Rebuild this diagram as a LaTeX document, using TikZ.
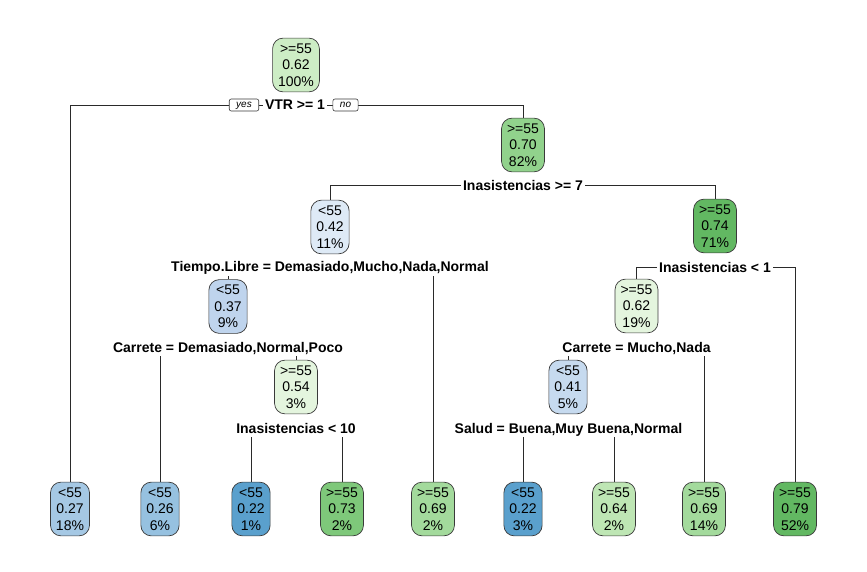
\documentclass[tikz,border=0pt]{standalone}
\usepackage{fontspec}
\setmainfont{Liberation Sans}
\usetikzlibrary{backgrounds}
\definecolor{bordc}{HTML}{3A3A3A}
\definecolor{linec}{HTML}{2A2A2A}
\definecolor{gA}{HTML}{CDEDC5}
\definecolor{gB}{HTML}{91D28C}
\definecolor{gC}{HTML}{62B862}
\definecolor{gD}{HTML}{E4F5DE}
\definecolor{gE}{HTML}{7EC87A}
\definecolor{gF}{HTML}{A3DA9C}
\definecolor{gG}{HTML}{BEE6B4}
\definecolor{bA}{HTML}{DEEAF6}
\definecolor{bB}{HTML}{BFD4ED}
\definecolor{bC}{HTML}{C6DAEF}
\definecolor{bD}{HTML}{A5C8E4}
\definecolor{bE}{HTML}{96C1E0}
\definecolor{bF}{HTML}{5AA0CD}
\tikzset{
  tnode/.style={draw=bordc, line width=0.7pt, rounded corners=10.5pt, align=center,
    inner xsep=5.5pt, inner ysep=5.5pt, font=\fontsize{14}{16.5}\selectfont},
  slabel/.style={fill=white, inner xsep=2pt, inner ysep=1pt, text height=13pt,
    text depth=3pt, font=\bfseries\fontsize{14}{16}\selectfont},
  yn/.style={draw=bordc, fill=white, rounded corners=2pt, line width=0.6pt,
    font=\itshape\fontsize{10}{12}\selectfont, inner xsep=7pt, inner ysep=1pt,
    text height=7.5pt, text depth=2.5pt},
  conn/.style={draw=linec, line width=0.8pt}
}
\begin{document}
\begin{tikzpicture}[x=1pt,y=-1pt]
\path[use as bounding box] (0,0) rectangle (867,572);
% internal nodes
\node[tnode, fill=gA] (n1) at (296,65) {>=55\\0.62\\100\%};
\node[slabel] (L1) at (295,105) {VTR >= 1};
\node[yn] (yes) at (244,105) {yes};
\node[yn] (no) at (345.5,105) {no};
\node[tnode, fill=gB] (n2) at (523,145) {>=55\\0.70\\82\%};
\node[slabel] (L2) at (523,185) {Inasistencias >= 7};
\node[tnode, fill=bA] (n4) at (330,227) {<55\\0.42\\11\%};
\node[slabel] (L4) at (330,266.5) {Tiempo.Libre = Demasiado,Mucho,Nada,Normal};
\node[tnode, fill=gC] (n5) at (715,226) {>=55\\0.74\\71\%};
\node[slabel] (L5) at (715,267) {Inasistencias < 1};
\node[tnode, fill=bB] (n8) at (228,306.5) {<55\\0.37\\9\%};
\node[slabel] (L8) at (228,347) {Carrete = Demasiado,Normal,Poco};
\node[tnode, fill=gD] (n10) at (636.5,306) {>=55\\0.62\\19\%};
\node[slabel] (L10) at (636.5,347) {Carrete = Mucho,Nada};
\node[tnode, fill=gD] (n17) at (296,387) {>=55\\0.54\\3\%};
\node[slabel] (L17) at (296,428) {Inasistencias < 10};
\node[tnode, fill=bC] (n20) at (568,387) {<55\\0.41\\5\%};
\node[slabel] (L20) at (568.5,428) {Salud = Buena,Muy Buena,Normal};
% leaves
\node[tnode, fill=bD] (f3) at (70,509) {<55\\0.27\\18\%};
\node[tnode, fill=bE] (f16) at (160,509) {<55\\0.26\\6\%};
\node[tnode, fill=bF] (f34) at (251,509) {<55\\0.22\\1\%};
\node[tnode, fill=gE] (f35) at (342,509) {>=55\\0.73\\2\%};
\node[tnode, fill=gF] (f9) at (433,509) {>=55\\0.69\\2\%};
\node[tnode, fill=bF] (f40) at (523,509) {<55\\0.22\\3\%};
\node[tnode, fill=gG] (f41) at (614,509) {>=55\\0.64\\2\%};
\node[tnode, fill=gF] (f21) at (704,509) {>=55\\0.69\\14\%};
\node[tnode, fill=gC] (f11) at (795,509) {>=55\\0.79\\52\%};
% connectors
\begin{pgfonlayer}{background}
\draw[conn] (f3.north) |- (L1.center);
\draw[conn] (n2.north) |- (L1.center);
\draw[conn] (n4.north) |- (L2.center);
\draw[conn] (n5.north) |- (L2.center);
\draw[conn] (n8.north) |- (L4.center);
\draw[conn] (f9.north) |- (L4.center);
\draw[conn] (f16.north) |- (L8.center);
\draw[conn] (n17.north) |- (L8.center);
\draw[conn] (f34.north) |- (L17.center);
\draw[conn] (f35.north) |- (L17.center);
\draw[conn] (n10.north) |- (L5.center);
\draw[conn] (f11.north) |- (L5.center);
\draw[conn] (n20.north) |- (L10.center);
\draw[conn] (f21.north) |- (L10.center);
\draw[conn] (f40.north) |- (L20.center);
\draw[conn] (f41.north) |- (L20.center);
\end{pgfonlayer}
\end{tikzpicture}
\end{document}
